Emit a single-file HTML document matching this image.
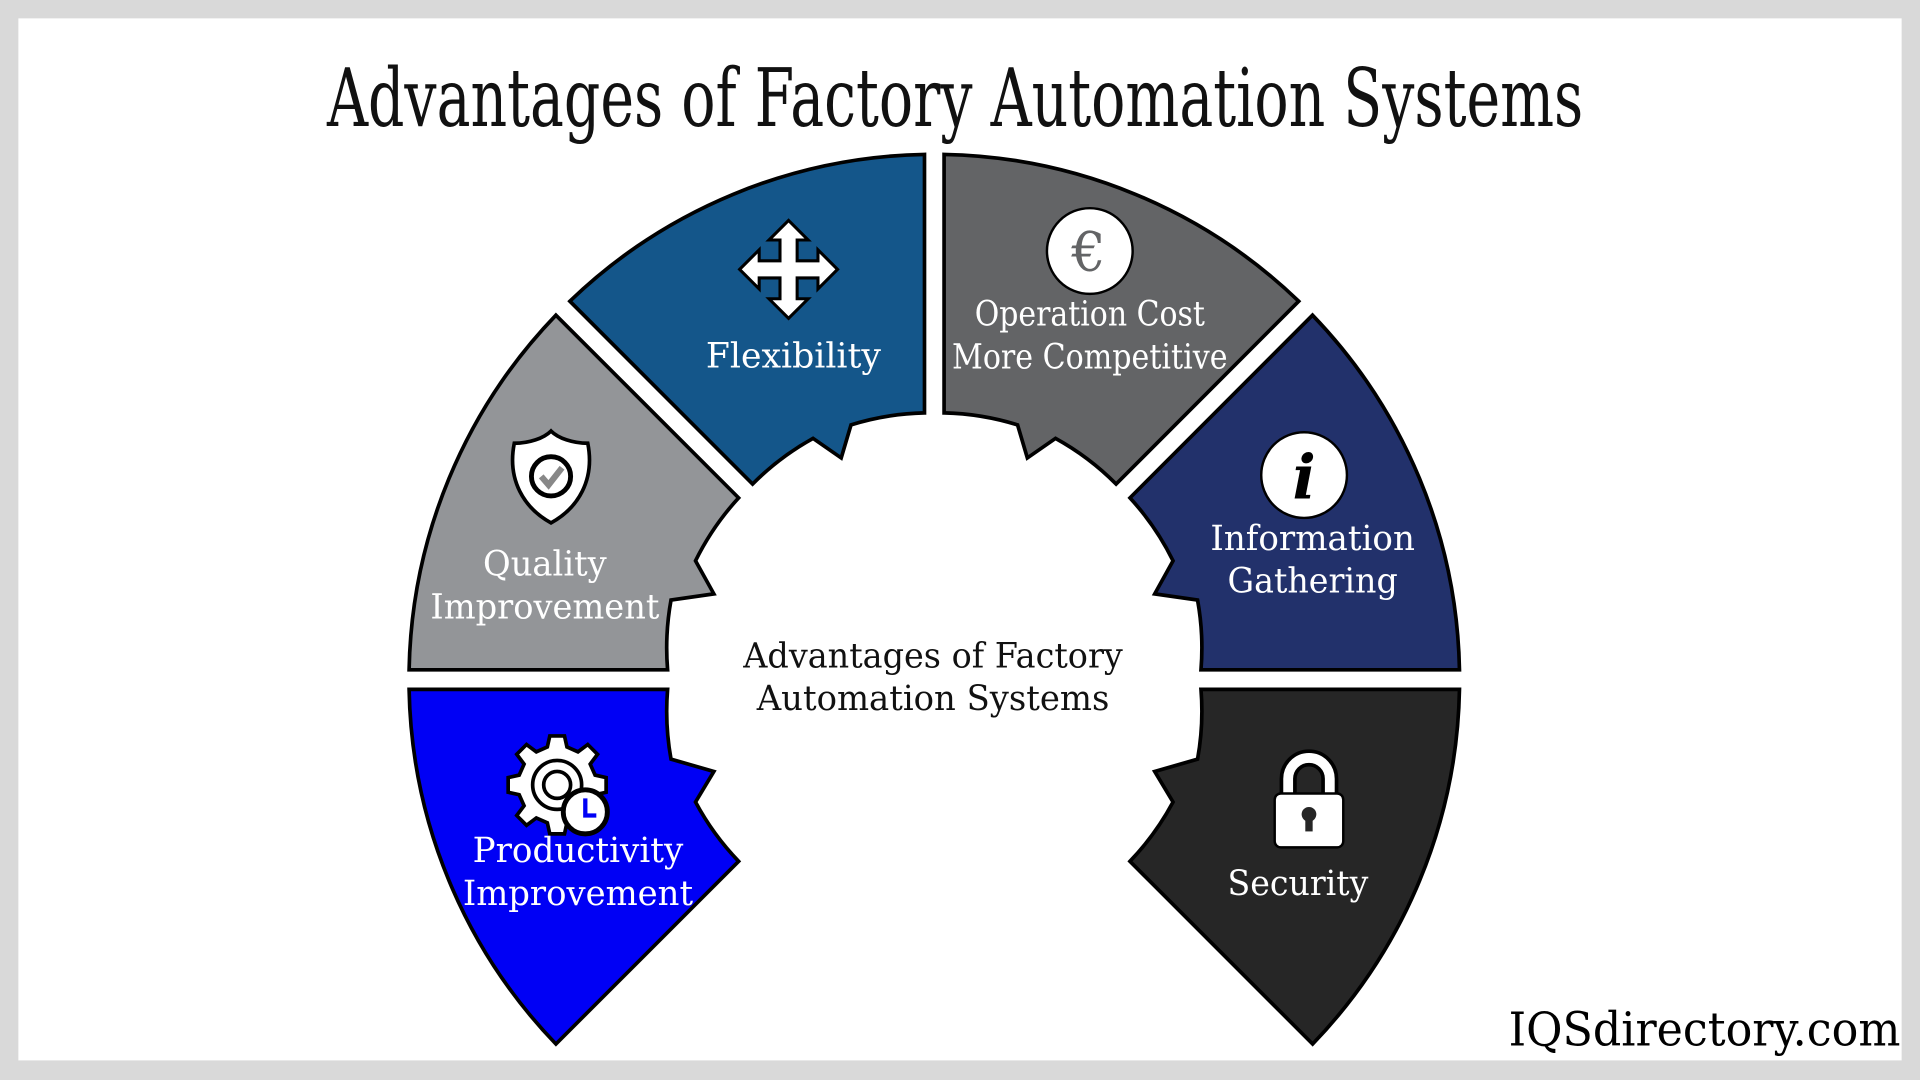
<!DOCTYPE html>
<html><head><meta charset="utf-8"><style>
html,body{margin:0;padding:0;width:1920px;height:1080px;overflow:hidden;background:#d9d9d9}
svg{display:block}
text{font-family:"DejaVu Serif","Liberation Serif",serif}
</style></head><body>
<svg width="1920" height="1080" viewBox="0 0 1568 882" xmlns="http://www.w3.org/2000/svg">
<rect x="0" y="0" width="1568" height="882" fill="#d9d9d9"/>
<rect x="15" y="15" width="1538" height="851" fill="#ffffff"/>
<text x="780" y="103" font-family="Liberation Serif" font-size="66" text-anchor="middle" textLength="1026" lengthAdjust="spacingAndGlyphs" fill="#111">Advantages of Factory Automation Systems</text>
<g stroke="#000" stroke-width="3" stroke-linejoin="miter">
<path fill="#14568a" d="M465.4,246 A429 429 0 0 1 755,126.1 L755,337.2 A218 218 0 0 0 695,347 L687,374 L664,358 A218 218 0 0 0 614.6,395.3 Z"/>
<path fill="#636466" d="M771,126.1 A429 429 0 0 1 1060.6,246 L911.5,395.3 A218 218 0 0 0 862,358 L839,374 L831,347 A218 218 0 0 0 771,337.2 Z"/>
<path fill="#22316b" d="M1071.9,257.4 A429 429 0 0 1 1191.9,547 L980.8,547 A218 218 0 0 0 978,490 L943,485 L958,458 A218 218 0 0 0 922.8,406.6 Z"/>
<path fill="#262626" d="M1191.9,563 A429 429 0 0 1 1072,852.6 L922.8,703.4 A218 218 0 0 0 958,655 L943,630 L978,620 A218 218 0 0 0 980.8,563 Z"/>
<path fill="#0000f5" d="M334.1,563 L545.2,563 A218 218 0 0 0 548,620 L583,630 L568,655 A218 218 0 0 0 603.2,703.4 L454,852.6 A429 429 0 0 1 334.1,563 Z"/>
<path fill="#939598" d="M454,257.4 L603.2,406.6 A218 218 0 0 0 568,458 L583,485 L548,490 A218 218 0 0 0 545.2,547 L334.1,547 A429 429 0 0 1 454,257.4 Z"/>
</g>
<!-- icons -->
<polygon fill="#fff" stroke="#000" stroke-width="2.5" points="644,180 660,196 651,196 651,213 668,213 668,204 684,220 668,236 668,227 651,227 651,244 660,244 644,260 628,244 637,244 637,227 620,227 620,236 604,220 620,204 620,213 637,213 637,196 628,196"/>
<circle cx="890" cy="205" r="35" fill="#fff" stroke="#000" stroke-width="2"/>
<text x="889" y="221" font-size="44" text-anchor="middle" fill="#636466" font-family="Liberation Sans">€</text>
<circle cx="1065" cy="388" r="35" fill="#fff" stroke="#000" stroke-width="2"/>
<text x="1065" y="407" font-size="50" text-anchor="middle" fill="#000" font-style="italic" font-weight="bold" font-family="Liberation Serif">i</text>
<path d="M450,352 C456,358 468,362 480,362 C486,392 472,415 450,427 C428,415 414,392 420,362 C432,362 444,358 450,352 Z" fill="#fff" stroke="#000" stroke-width="3"/>
<circle cx="450" cy="389" r="16" fill="#fff" stroke="#000" stroke-width="4"/>
<path d="M442,389 L448,396 L459,382" fill="none" stroke="#888" stroke-width="5"/>
<g transform="translate(455,641)" fill="#fff" stroke="#000" stroke-width="3">
<path d="M-6,-36 L6,-36 L8,-27 L17,-23 L25,-29 L33,-21 L27,-13 L31,-4 L40,-2 L40,10 L31,12 L27,21 L33,29 L25,37 L17,31 L8,35 L6,44 L-6,44 L-8,35 L-17,31 L-25,37 L-33,29 L-27,21 L-31,12 L-40,10 L-40,-2 L-31,-4 L-27,-13 L-33,-21 L-25,-29 L-17,-23 L-8,-27 Z" transform="translate(0,-4)"/>
<circle cx="0" cy="0" r="20"/>
<circle cx="0" cy="0" r="11"/>
</g>
<circle cx="478" cy="663" r="18" fill="#fff" stroke="#000" stroke-width="4"/>
<path d="M478,652 L478,666 L487,666" fill="none" stroke="#0000f5" stroke-width="3.5"/>
<path d="M1052,650 L1052,636 A17 17 0 0 1 1086,636 L1086,650" fill="none" stroke="#000" stroke-width="14"/>
<path d="M1052,650 L1052,636 A17 17 0 0 1 1086,636 L1086,650" fill="none" stroke="#fff" stroke-width="8"/>
<rect x="1041" y="648" width="56" height="44" rx="5" fill="#fff" stroke="#000" stroke-width="2"/>
<circle cx="1069" cy="665" r="6" fill="#262626"/>
<rect x="1066" y="666" width="6" height="13" fill="#262626"/>
<!-- labels -->
<g fill="#fff" font-size="28" text-anchor="middle">
<text x="648" y="300" textLength="143" lengthAdjust="spacingAndGlyphs">Flexibility</text>
<text x="890" y="266" textLength="188" lengthAdjust="spacingAndGlyphs">Operation Cost</text>
<text x="890" y="301" textLength="225" lengthAdjust="spacingAndGlyphs">More Competitive</text>
<text x="1072" y="449" textLength="167" lengthAdjust="spacingAndGlyphs">Information</text>
<text x="1072" y="484" textLength="139" lengthAdjust="spacingAndGlyphs">Gathering</text>
<text x="445" y="470" textLength="101" lengthAdjust="spacingAndGlyphs">Quality</text>
<text x="445" y="505" textLength="187" lengthAdjust="spacingAndGlyphs">Improvement</text>
<text x="472" y="704" textLength="172" lengthAdjust="spacingAndGlyphs">Productivity</text>
<text x="472" y="739" textLength="188" lengthAdjust="spacingAndGlyphs">Improvement</text>
<text x="1060" y="731" textLength="115" lengthAdjust="spacingAndGlyphs">Security</text>
</g>
<g fill="#111" font-size="28" text-anchor="middle">
<text x="762" y="545" textLength="310" lengthAdjust="spacingAndGlyphs">Advantages of Factory</text>
<text x="762" y="580" textLength="288" lengthAdjust="spacingAndGlyphs">Automation Systems</text>
</g>
<text x="1392" y="854" font-size="38" text-anchor="middle" fill="#000" textLength="320" lengthAdjust="spacingAndGlyphs">IQSdirectory.com</text>
</svg>
</body></html>
